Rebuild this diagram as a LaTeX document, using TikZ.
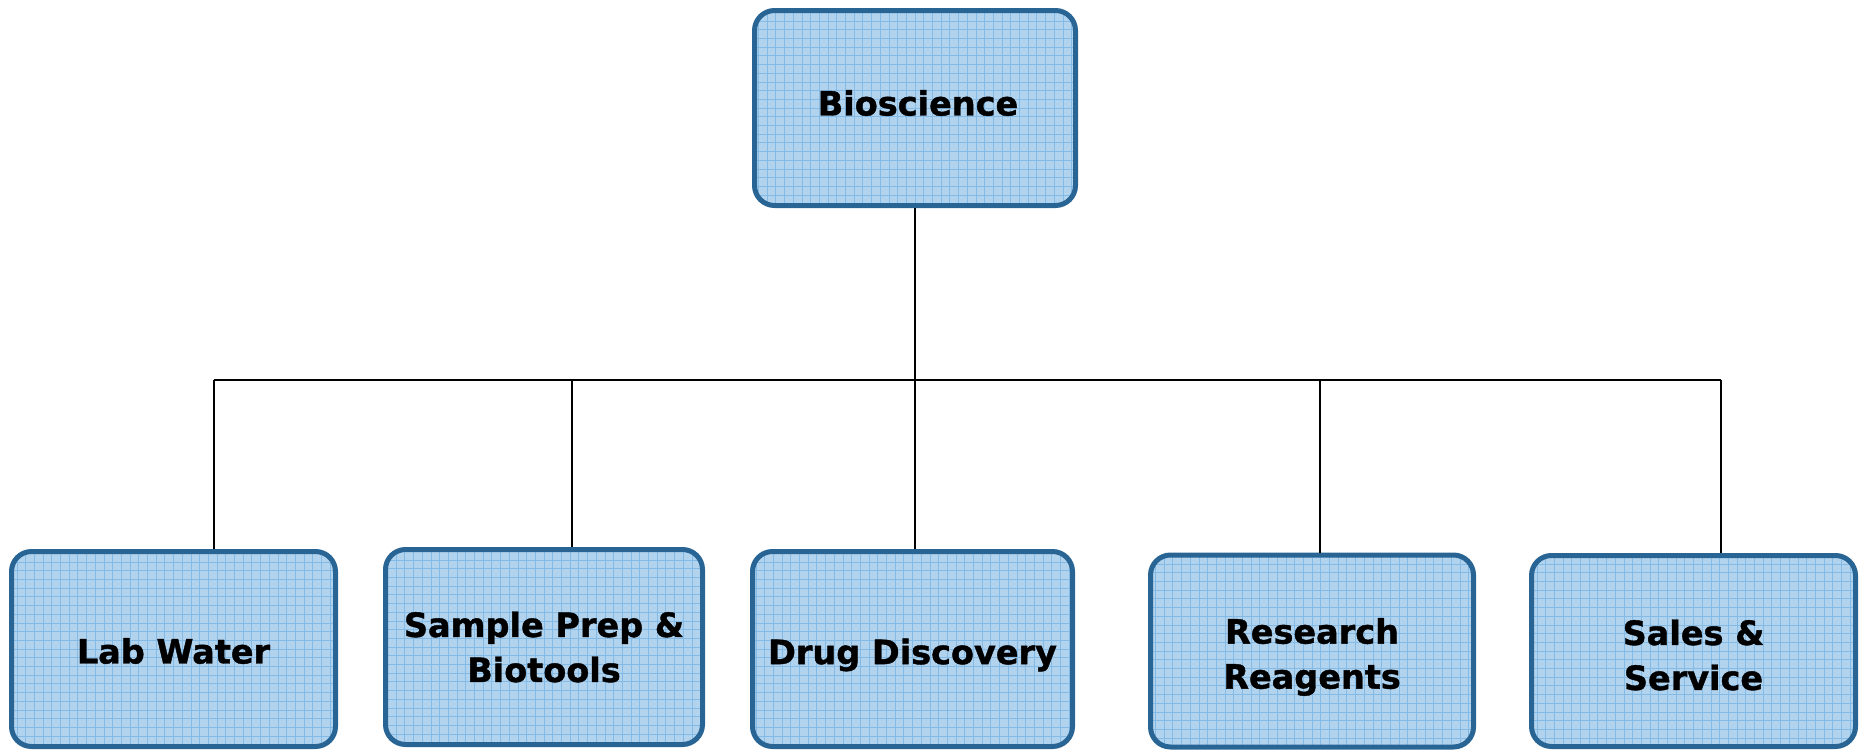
\documentclass[tikz,border=0pt]{standalone}
\usepackage{fontspec}
\setmainfont[BoldFeatures={FakeBold=1.2}]{DejaVu Sans}
\definecolor{boxfill}{RGB}{178,211,238}
\definecolor{gridc}{RGB}{132,186,230}
\definecolor{boxline}{RGB}{40,100,148}
\tikzset{
  orgbox/.style={draw=boxline, line width=5pt, rounded corners=20pt, fill=boxfill,
    inner sep=0pt,
    path picture={\draw[gridc, line width=0.8pt, step=8.7pt]
      (path picture bounding box.south west) grid (path picture bounding box.north east);}},
  lbl/.style={align=center, inner sep=0pt, font=\fontsize{33.5}{45}\selectfont\bfseries},
  conn/.style={draw=black, line width=2pt}
}
\begin{document}
\begin{tikzpicture}[x=1pt,y=-1pt]
\useasboundingbox (0,0) rectangle (1864,750);
\node[orgbox, minimum width=321pt, minimum height=195pt,
  label={[lbl,yshift=5pt,xshift=3pt]center:Bioscience}] (bio) at (915,108) {};
\node[orgbox, minimum width=324pt, minimum height=195pt,
  label={[lbl,yshift=-2pt]center:Lab Water}] (lab) at (173.5,649) {};
\node[orgbox, minimum width=317pt, minimum height=195pt,
  label={[lbl,yshift=0pt]center:{Sample Prep \&\\Biotools}}] (sample) at (544,647) {};
\node[orgbox, minimum width=320pt, minimum height=195pt,
  label={[lbl,yshift=-6pt]center:Drug Discovery}] (drug) at (912.5,649) {};
\node[orgbox, minimum width=323pt, minimum height=192pt,
  label={[lbl,yshift=-6pt]center:{Research\\Reagents}}] (res) at (1312,651) {};
\node[orgbox, minimum width=324pt, minimum height=191pt,
  label={[lbl,yshift=-4pt]center:{Sales \&\\Service}}] (sales) at (1693.5,651) {};
\coordinate (hub) at (915,380);
\coordinate (hl) at (214,380);
\coordinate (hs) at (572,380);
\coordinate (hr) at (1320,380);
\coordinate (he) at (1721,380);
\draw[conn] (bio.south) -- (hub);
\draw[conn] (hl) -- (he);
\draw[conn] (hl) -- (hl |- lab.north);
\draw[conn] (hs) -- (hs |- sample.north);
\draw[conn] (hub) -- (drug.north -| hub);
\draw[conn] (hr) -- (hr |- res.north);
\draw[conn] (he) -- (he |- sales.north);
\end{tikzpicture}
\end{document}
